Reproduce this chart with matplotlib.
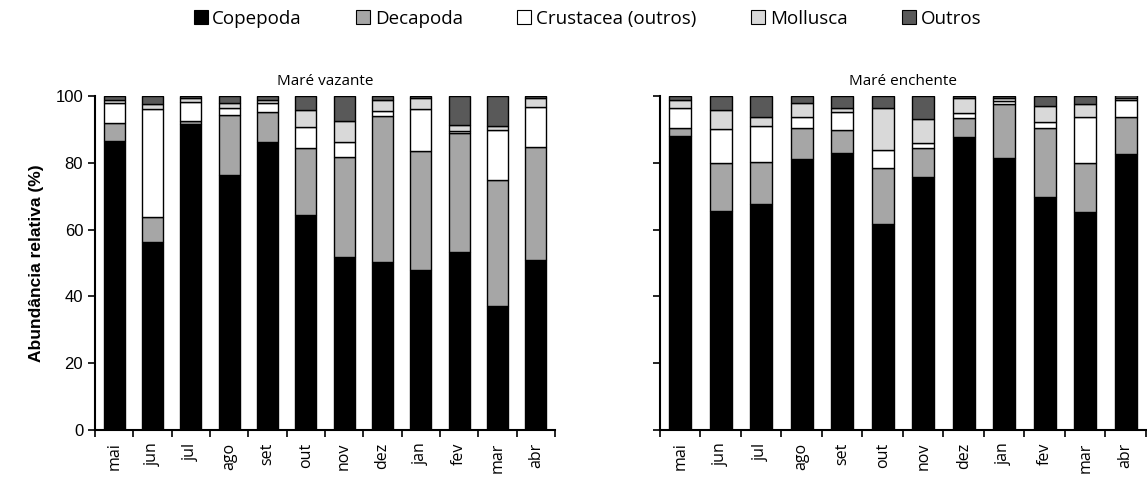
import numpy as np
import matplotlib.pyplot as plt
from matplotlib.patches import Patch

meses = ['mai', 'jun', 'jul', 'ago', 'set', 'out', 'nov', 'dez', 'jan', 'fev', 'mar', 'abr']
grupos = ['Copepoda', 'Decapoda', 'Crustacea (outros)', 'Mollusca', 'Outros']
cores = ['#000000', '#a6a6a6', '#ffffff', '#d9d9d9', '#595959']

# abundancia relativa (%) - mare vazante
vaz_copepoda = [86.6, 56.4, 91.5, 76.3, 86.3, 64.4, 51.7, 50.4, 48.0, 53.4, 37.0, 50.9]
vaz_decapoda = [5.4, 7.5, 1.0, 18.0, 8.8, 19.9, 30.1, 43.6, 35.5, 35.4, 37.9, 33.7]
vaz_crustacea = [5.8, 32.2, 5.6, 2.0, 2.7, 6.3, 4.3, 1.5, 12.6, 0.8, 14.9, 12.2]
vaz_mollusca = [1.0, 1.5, 1.2, 1.5, 1.0, 5.2, 6.4, 3.3, 3.4, 1.7, 1.3, 2.7]
vaz_outros = [1.2, 2.4, 0.7, 2.2, 1.2, 4.2, 7.5, 1.2, 0.5, 8.7, 8.9, 0.5]

# abundancia relativa (%) - mare enchente
enc_copepoda = [88.1, 65.6, 67.6, 81.1, 82.8, 61.6, 75.8, 87.8, 81.3, 69.9, 65.2, 82.5]
enc_decapoda = [2.4, 14.2, 12.7, 9.2, 7.0, 16.7, 8.7, 5.5, 16.3, 20.4, 14.6, 11.1]
enc_crustacea = [6.0, 10.3, 10.7, 3.5, 5.3, 5.5, 1.3, 1.5, 1.0, 2.0, 14.0, 5.1]
enc_mollusca = [2.3, 5.7, 2.6, 4.0, 1.2, 12.5, 7.3, 4.5, 0.9, 4.8, 3.7, 0.8]
enc_outros = [1.2, 4.2, 6.4, 2.2, 3.7, 3.7, 6.9, 0.7, 0.5, 2.9, 2.5, 0.7]

vazante = [vaz_copepoda, vaz_decapoda, vaz_crustacea, vaz_mollusca, vaz_outros]
enchente = [enc_copepoda, enc_decapoda, enc_crustacea, enc_mollusca, enc_outros]

fonte_txt = 'Open Sans'
fonte_num = 'Liberation Sans'

fig = plt.figure(figsize=(11.47, 4.84), dpi=100)
ax1 = fig.add_axes([0.0828, 0.1116, 0.401, 0.690])
ax2 = fig.add_axes([0.5754, 0.1116, 0.4237, 0.690])

x = np.arange(len(meses))
for ax, dados, titulo in [(ax1, vazante, 'Maré vazante'), (ax2, enchente, 'Maré enchente')]:
    base = np.zeros(len(meses))
    for vals, cor in zip(dados, cores):
        ax.bar(x, vals, bottom=base, width=0.55, color=cor, edgecolor='black', linewidth=1.0)
        base += np.array(vals)
    ax.set_xlim(-0.5, 11.5)
    ax.set_ylim(0, 100)
    ax.set_yticks([0, 20, 40, 60, 80, 100])
    ax.set_xticks(x)
    ax.set_xticklabels(meses, rotation=90, fontfamily=fonte_txt, fontsize=11.5)
    ax.set_xticks(np.arange(-0.5, 12, 1), minor=True)
    ax.tick_params(axis='x', which='major', length=0, pad=9)
    ax.tick_params(axis='x', which='minor', length=5, width=1.2, direction='out')
    ax.tick_params(axis='y', length=5, width=1.2, direction='out', labelsize=12)
    for lab in ax.get_yticklabels():
        lab.set_fontfamily(fonte_num)
    for s in ['top', 'right']:
        ax.spines[s].set_visible(False)
    for s in ['left', 'bottom']:
        ax.spines[s].set_linewidth(1.5)
    ax.set_title(titulo, fontfamily=fonte_txt, fontsize=11, pad=8)

ax2.set_yticklabels([])
ax1.set_ylabel('Abundância relativa (%)', fontfamily=fonte_num, fontsize=12.5,
               fontweight='bold', labelpad=8)

handles = [Patch(facecolor=c, edgecolor='black', linewidth=0.8) for c in cores]
fig.legend(handles, grupos, loc='upper center', bbox_to_anchor=(0.512, 1.015), ncol=5,
           frameon=False, prop={'family': fonte_txt, 'size': 13.5}, handlelength=0.75,
           handleheight=0.75, handletextpad=0.25, columnspacing=2.9)

fig.savefig('out.png', dpi=100)
